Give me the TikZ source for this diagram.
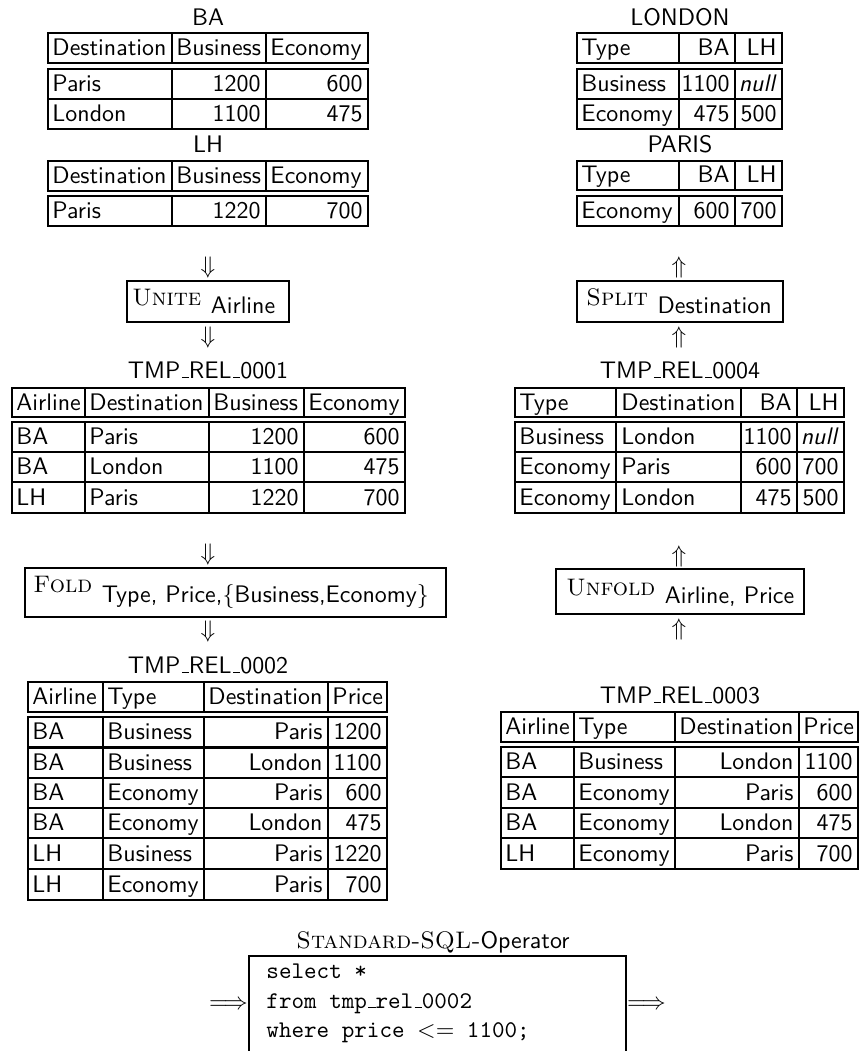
\documentclass[tikz,border=0pt]{standalone}
\renewcommand\familydefault{\sfdefault}
\newcommand\opname[1]{{\rmfamily\scshape #1}}
\newcommand\opsub[2]{\raisebox{-#1}{#2}}
\newcommand\usc{\leavevmode\kern.06em\vbox{\hrule width.3em}}
\begin{document}
\begin{tikzpicture}[x=0.418pt,y=-0.418pt,
  tbl/.style={line width=1.15pt},
  opbox/.style={line width=1.15pt},
  cl/.style={anchor=base west,inner sep=0pt},
  cr/.style={anchor=base east,inner sep=0pt},
  ttl/.style={anchor=base,inner sep=0pt},
  sym/.style={anchor=center,inner sep=0pt},
  symb/.style={anchor=base,inner sep=0pt}]
\useasboundingbox (0,0) rectangle (860,1051);

% ---------- BA ----------
\node[ttl] (ba-t) at (208,25) {BA};
\draw[tbl] (48,33) rectangle (368,63);
\foreach \c in {172,266} \draw[tbl] (\c,33) -- (\c,63);
\draw[tbl] (48,69) rectangle (368,129);
\draw[tbl] (48,99) -- (368,99);
\foreach \c in {172,266} \draw[tbl] (\c,69) -- (\c,129);
\node[cl] (ba-h1) at (52,55) {Destination};
\node[cl] (ba-h2) at (176,55) {Business};
\node[cl] (ba-h3) at (270,55) {Economy};
\node[cl] (ba-11) at (52,91) {Paris};
\node[cr] (ba-12) at (261,91) {1200};
\node[cr] (ba-13) at (363,91) {600};
\node[cl] (ba-21) at (52,121) {London};
\node[cr] (ba-22) at (261,121) {1100};
\node[cr] (ba-23) at (363,121) {475};

% ---------- LH ----------
\node[ttl] (lh-t) at (208,152) {LH};
\draw[tbl] (48,161) rectangle (368,191);
\foreach \c in {172,266} \draw[tbl] (\c,161) -- (\c,191);
\draw[tbl] (48,196) rectangle (368,226);
\foreach \c in {172,266} \draw[tbl] (\c,196) -- (\c,226);
\node[cl] (lh-h1) at (52,183) {Destination};
\node[cl] (lh-h2) at (176,183) {Business};
\node[cl] (lh-h3) at (270,183) {Economy};
\node[cl] (lh-11) at (52,218) {Paris};
\node[cr] (lh-12) at (261,218) {1220};
\node[cr] (lh-13) at (363,218) {700};

% ---------- LONDON ----------
\node[ttl] (lo-t) at (680,25) {LONDON};
\draw[tbl] (577,33) rectangle (782,63);
\foreach \c in {679,735} \draw[tbl] (\c,33) -- (\c,63);
\draw[tbl] (577,69) rectangle (782,129);
\draw[tbl] (577,99) -- (782,99);
\foreach \c in {679,735} \draw[tbl] (\c,69) -- (\c,129);
\node[cl] (lo-h1) at (581,55) {Type};
\node[cr] (lo-h2) at (730,55) {BA};
\node[cr] (lo-h3) at (777,55) {LH};
\node[cl] (lo-11) at (581,91) {Business};
\node[cr] (lo-12) at (730,91) {1100};
\node[cr] (lo-13) at (777,91) {\textit{null}};
\node[cl] (lo-21) at (581,121) {Economy};
\node[cr] (lo-22) at (730,121) {475};
\node[cr] (lo-23) at (777,121) {500};

% ---------- PARIS ----------
\node[ttl] (pa-t) at (680,152) {PARIS};
\draw[tbl] (577,161) rectangle (782,190);
\foreach \c in {679,735} \draw[tbl] (\c,161) -- (\c,190);
\draw[tbl] (577,196) rectangle (782,226);
\foreach \c in {679,735} \draw[tbl] (\c,196) -- (\c,226);
\node[cl] (pa-h1) at (581,182) {Type};
\node[cr] (pa-h2) at (730,182) {BA};
\node[cr] (pa-h3) at (777,182) {LH};
\node[cl] (pa-11) at (581,218) {Economy};
\node[cr] (pa-12) at (730,218) {600};
\node[cr] (pa-13) at (777,218) {700};

% ---------- UNITE ----------
\node[sym] (un-a1) at (208,268) {$\Downarrow$};
\draw[opbox] (127,281) rectangle (289,322);
\node[cl] (unite) at (132,305) {\opname{Unite}\hspace{4pt}\opsub{3.4pt}{Airline}};
\node[sym] (un-a2) at (208,338) {$\Downarrow$};

% ---------- SPLIT ----------
\node[sym] (sp-a1) at (679,268) {$\Uparrow$};
\draw[opbox] (577,281) rectangle (783,322);
\node[cl] (split) at (586,305) {\opname{Split}\hspace{4pt}\opsub{3.4pt}{Destination}};
\node[sym] (sp-a2) at (679,338) {$\Uparrow$};

% ---------- TMP_REL_0001 ----------
\node[ttl] (t1-t) at (208,378) {TMP\usc REL\usc 0001};
\draw[tbl] (12,388) rectangle (405,417);
\foreach \c in {85,209,304} \draw[tbl] (\c,388) -- (\c,417);
\draw[tbl] (12,422) rectangle (405,513);
\foreach \r in {452,482} \draw[tbl] (12,\r) -- (405,\r);
\foreach \c in {85,209,304} \draw[tbl] (\c,422) -- (\c,513);
\node[cl] (t1-h1) at (16,410) {Airline};
\node[cl] (t1-h2) at (89,410) {Destination};
\node[cl] (t1-h3) at (213,410) {Business};
\node[cl] (t1-h4) at (308,410) {Economy};
\node[cl] (t1-11) at (16,444) {BA};
\node[cl] (t1-12) at (89,444) {Paris};
\node[cr] (t1-13) at (299,444) {1200};
\node[cr] (t1-14) at (400,444) {600};
\node[cl] (t1-21) at (16,474) {BA};
\node[cl] (t1-22) at (89,474) {London};
\node[cr] (t1-23) at (299,474) {1100};
\node[cr] (t1-24) at (400,474) {475};
\node[cl] (t1-31) at (16,505) {LH};
\node[cl] (t1-32) at (89,505) {Paris};
\node[cr] (t1-33) at (299,505) {1220};
\node[cr] (t1-34) at (400,505) {700};

% ---------- TMP_REL_0004 ----------
\node[ttl] (t4-t) at (680,378) {TMP\usc REL\usc 0004};
\draw[tbl] (515,388) rectangle (844,417);
\foreach \c in {616,741,797} \draw[tbl] (\c,388) -- (\c,417);
\draw[tbl] (515,422) rectangle (844,513);
\foreach \r in {452,482} \draw[tbl] (515,\r) -- (844,\r);
\foreach \c in {616,741,797} \draw[tbl] (\c,422) -- (\c,513);
\node[cl] (t4-h1) at (519,410) {Type};
\node[cl] (t4-h2) at (621,410) {Destination};
\node[cr] (t4-h3) at (792,410) {BA};
\node[cr] (t4-h4) at (839,410) {LH};
\node[cl] (t4-11) at (519,444) {Business};
\node[cl] (t4-12) at (621,444) {London};
\node[cr] (t4-13) at (792,444) {1100};
\node[cr] (t4-14) at (839,444) {\textit{null}};
\node[cl] (t4-21) at (519,474) {Economy};
\node[cl] (t4-22) at (621,474) {Paris};
\node[cr] (t4-23) at (792,474) {600};
\node[cr] (t4-24) at (839,474) {700};
\node[cl] (t4-31) at (519,505) {Economy};
\node[cl] (t4-32) at (621,505) {London};
\node[cr] (t4-33) at (792,505) {475};
\node[cr] (t4-34) at (839,505) {500};

% ---------- FOLD ----------
\node[sym] (fo-a1) at (208,555) {$\Downarrow$};
\draw[opbox] (25,568) rectangle (446,617);
\node[cl] (fold) at (33,592) {\opname{Fold}\hspace{4pt}\opsub{4.4pt}{Type, Price,$\{$Business,Economy$\}$}};
\node[sym] (fo-a2) at (208,632) {$\Downarrow$};

% ---------- UNFOLD ----------
\node[sym] (uf-a1) at (679,557) {$\Uparrow$};
\draw[opbox] (556,569) rectangle (804,614);
\node[cl] (unfold) at (566,595) {\opname{Unfold}\hspace{4pt}\opsub{3.4pt}{Airline, Price}};
\node[sym] (uf-a2) at (679,630) {$\Uparrow$};

% ---------- TMP_REL_0002 ----------
\node[ttl] (t2-t) at (208,673) {TMP\usc REL\usc 0002};
\draw[tbl] (28,682) rectangle (387,712);
\foreach \c in {103,204,328} \draw[tbl] (\c,682) -- (\c,712);
\draw[tbl] (28,717) rectangle (387,900);
\foreach \r in {747.5,778,808,838,869} \draw[tbl] (28,\r) -- (387,\r);
\foreach \c in {103,204,328} \draw[tbl] (\c,717) -- (\c,900);
\node[cl] (t2-h1) at (32,704) {Airline};
\node[cl] (t2-h2) at (107,704) {Type};
\node[cl] (t2-h3) at (208,704) {Destination};
\node[cl] (t2-h4) at (332,704) {Price};
\node[cl] (t2-11) at (32,739.5) {BA};
\node[cl] (t2-12) at (107,739.5) {Business};
\node[cr] (t2-13) at (323,739.5) {Paris};
\node[cr] (t2-14) at (382,739.5) {1200};
\node[cl] (t2-21) at (32,770) {BA};
\node[cl] (t2-22) at (107,770) {Business};
\node[cr] (t2-23) at (323,770) {London};
\node[cr] (t2-24) at (382,770) {1100};
\node[cl] (t2-31) at (32,800) {BA};
\node[cl] (t2-32) at (107,800) {Economy};
\node[cr] (t2-33) at (323,800) {Paris};
\node[cr] (t2-34) at (382,800) {600};
\node[cl] (t2-41) at (32,830) {BA};
\node[cl] (t2-42) at (107,830) {Economy};
\node[cr] (t2-43) at (323,830) {London};
\node[cr] (t2-44) at (382,830) {475};
\node[cl] (t2-51) at (32,861) {LH};
\node[cl] (t2-52) at (107,861) {Business};
\node[cr] (t2-53) at (323,861) {Paris};
\node[cr] (t2-54) at (382,861) {1220};
\node[cl] (t2-61) at (32,892) {LH};
\node[cl] (t2-62) at (107,892) {Economy};
\node[cr] (t2-63) at (323,892) {Paris};
\node[cr] (t2-64) at (382,892) {700};

% ---------- TMP_REL_0003 ----------
\node[ttl] (t3-t) at (680,703) {TMP\usc REL\usc 0003};
\draw[tbl] (501,712) rectangle (858,742);
\foreach \c in {574,675,799} \draw[tbl] (\c,712) -- (\c,742);
\draw[tbl] (501,747) rectangle (858,869);
\foreach \r in {777,808,838} \draw[tbl] (501,\r) -- (858,\r);
\foreach \c in {574,675,799} \draw[tbl] (\c,747) -- (\c,869);
\node[cl] (t3-h1) at (505,734) {Airline};
\node[cl] (t3-h2) at (578,734) {Type};
\node[cl] (t3-h3) at (679,734) {Destination};
\node[cl] (t3-h4) at (803,734) {Price};
\node[cl] (t3-11) at (505,769) {BA};
\node[cl] (t3-12) at (578,769) {Business};
\node[cr] (t3-13) at (794,769) {London};
\node[cr] (t3-14) at (853,769) {1100};
\node[cl] (t3-21) at (505,800) {BA};
\node[cl] (t3-22) at (578,800) {Economy};
\node[cr] (t3-23) at (794,800) {Paris};
\node[cr] (t3-24) at (853,800) {600};
\node[cl] (t3-31) at (505,830) {BA};
\node[cl] (t3-32) at (578,830) {Economy};
\node[cr] (t3-33) at (794,830) {London};
\node[cr] (t3-34) at (853,830) {475};
\node[cl] (t3-41) at (505,861) {LH};
\node[cl] (t3-42) at (578,861) {Economy};
\node[cr] (t3-43) at (794,861) {Paris};
\node[cr] (t3-44) at (853,861) {700};

% ---------- SQL operator ----------
\node[ttl] (sql-t) at (433,948) {\opname{Standard-SQL-}Operator};
\draw[opbox] (249,1062) -- (249,956) -- (626,956) -- (626,1062);
\node[cl] (sql-1) at (266,978) {\ttfamily select *};
\node[cl] (sql-2) at (266,1008) {\ttfamily from tmp\usc rel\usc 0002};
\node[cl] (sql-3) at (266,1037) {\ttfamily where price $<=$ 1100;};
\node[symb] (sql-in) at (228.5,1009) {$\Longrightarrow$};
\node[symb] (sql-out) at (646.5,1009) {$\Longrightarrow$};
\end{tikzpicture}
\end{document}
